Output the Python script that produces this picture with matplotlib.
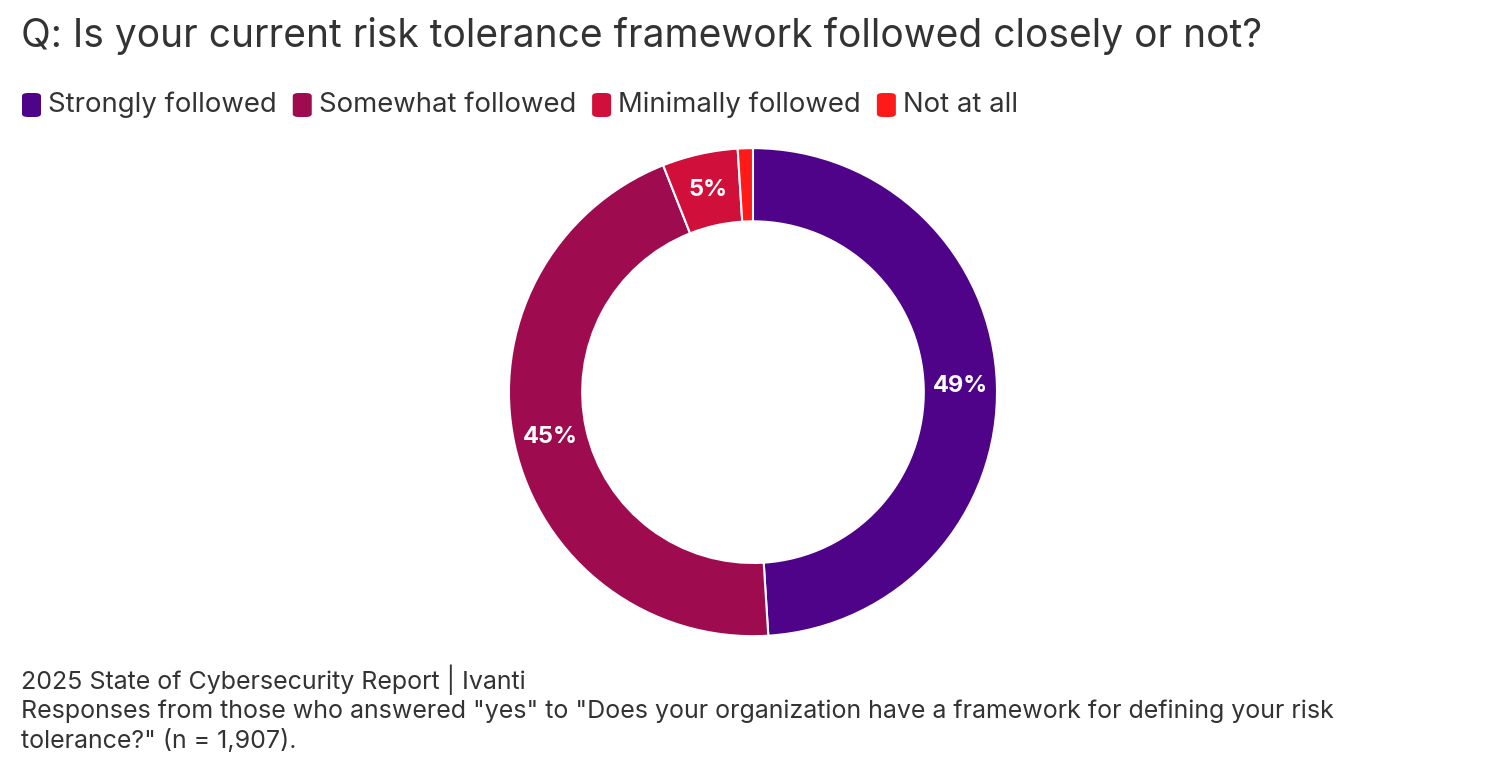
import matplotlib.pyplot as plt
from matplotlib.patches import FancyBboxPatch
import numpy as np

plt.rcParams['font.family'] = 'Inter'

categories = ['Strongly followed', 'Somewhat followed', 'Minimally followed', 'Not at all']
values = [49, 45, 5, 1]
colors = ['#4f0388', '#9e0c4f', '#d0103a', '#ff1a1a']

fig = plt.figure(figsize=(15.04, 7.75), dpi=100)
ax = fig.add_axes([0.3384, 0.179, 0.3245, 0.63])

wedges, _ = ax.pie(values, colors=colors, startangle=90, counterclock=False,
                   radius=1.0, wedgeprops=dict(width=0.30, edgecolor='white', linewidth=1.5))
ax.set_xlim(-1, 1)
ax.set_ylim(-1, 1)
ax.set_aspect('equal')

# percent labels inside the ring (skip the tiny slice)
for w, v in zip(wedges, values):
    if v < 3:
        continue
    ang = np.deg2rad((w.theta1 + w.theta2) / 2)
    ax.text(0.85 * np.cos(ang), 0.85 * np.sin(ang), f'{v}%', ha='center', va='center',
            color='white', fontsize=17, fontweight='bold')

fig.text(0.014, 1 - 36 / 775, 'Q: Is your current risk tolerance framework followed closely or not?',
         fontsize=28, color='#333333', va='center')

# legend
x = 22
for cat, c in zip(categories, colors):
    fig.patches.append(FancyBboxPatch((x / 1504, 1 - 117 / 775), 19 / 1504, 24 / 775,
                                      boxstyle='round,pad=0,rounding_size=0.004',
                                      transform=fig.transFigure, facecolor=c, edgecolor='none'))
    t = fig.text((x + 26) / 1504, 1 - 105 / 775, cat, fontsize=19.8, color='#333333', va='center')
    fig.canvas.draw()
    bb = t.get_window_extent()
    x = bb.x1 + 16

fig.text(0.014, 1 - 680 / 775, '2025 State of Cybersecurity Report | Ivanti', fontsize=18,
         color='#333333', va='center')
fig.text(0.014, 1 - 711 / 775, 'Responses from those who answered "yes" to "Does your organization have a framework for defining your risk',
         fontsize=18, color='#333333', va='center')
fig.text(0.014, 1 - 741 / 775, 'tolerance?" (n = 1,907).', fontsize=18, color='#333333', va='center')

fig.savefig('out.png', dpi=100)
